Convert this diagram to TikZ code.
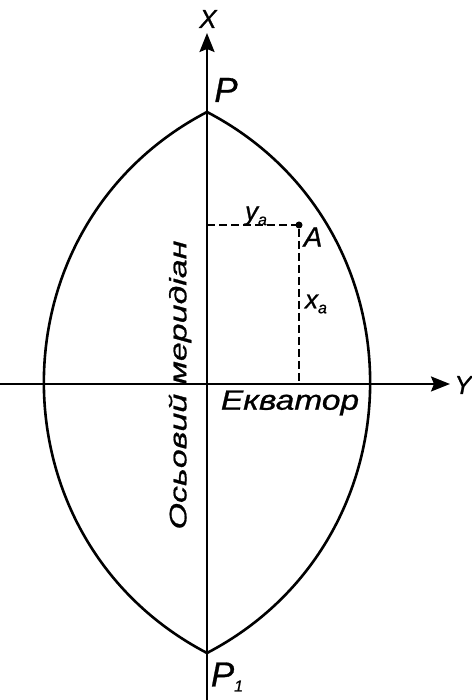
\documentclass[tikz,border=0pt]{standalone}
\usepackage{fontspec}
\setmainfont{Liberation Sans}[ItalicFeatures={FakeBold=0.8}]
\usetikzlibrary{arrows.meta}

\newcommand{\lowidx}[1]{\raisebox{-5bp}{\fontsize{16}{16}\selectfont #1}}

\begin{document}
\begin{tikzpicture}[x=1bp,y=1bp,>={Stealth[length=19bp,width=15bp,inset=3bp]},
  axis/.style={line width=2bp},
  lens/.style={line width=2.6bp},
  guide/.style={line width=1.6bp,dash pattern=on 8bp off 4bp},
  lbl/.style={font=\fontsize{28}{30}\selectfont\itshape,inner sep=0pt}]
  \useasboundingbox (0,0) rectangle (472,700);
  \coordinate (O) at (207,316);
  \coordinate (P) at (207,588);
  \coordinate (P1) at (207,47);
  \coordinate (Xb) at (207,0);
  \coordinate (Xt) at (207,667);
  \coordinate (Yl) at (0,316);
  \coordinate (Yr) at (450,316);
  % axes
  \draw[axis,->] (Xb) -- (Xt);
  \draw[axis,->] (Yl) -- (Yr);
  % meridians bounding the zone
  \draw[lens] (P) to[out=-27.55,in=27.55,looseness=1.163] (P1);
  \draw[lens] (P) to[out=207.55,in=152.45,looseness=1.163] (P1);
  % point A and its coordinates
  \coordinate (A) at (299,475);
  \coordinate (Ay) at (207,475);
  \coordinate (Ax) at (299,316);
  \draw[guide] (Ay) -- (A) -- (Ax);
  \fill (A) circle (3.5bp);
  % labels
  \node[lbl,font=\fontsize{26}{28}\selectfont\itshape] (xlab) at (208,681) {X};
  \node[lbl,font=\fontsize{26}{28}\selectfont\itshape] (ylab) at (463,315) {Y};
  \node[lbl,font=\fontsize{35}{37}\selectfont\itshape] (plab) at (226,610) {P};
  \node[lbl,font=\fontsize{35}{37}\selectfont\itshape] (p1lab) at (227,23) {P\lowidx{1}};
  \node[lbl] (alab) at (313,463) {A};
  \node[lbl,font=\fontsize{26}{28}\selectfont\itshape] (yalab) at (256,484) {y\lowidx{a}};
  \node[lbl,font=\fontsize{26}{28}\selectfont\itshape] (xalab) at (316,396) {x\lowidx{a}};
  \node[lbl] (eq) at (290,297) {\scalebox{1.2}[1]{Екватор}};
  \node[lbl,font=\fontsize{24}{26}\selectfont\itshape,rotate=90] (merid) at (180,315)
    {\scalebox{1.42}[1]{Осьовий меридіан}};
\end{tikzpicture}
\end{document}
